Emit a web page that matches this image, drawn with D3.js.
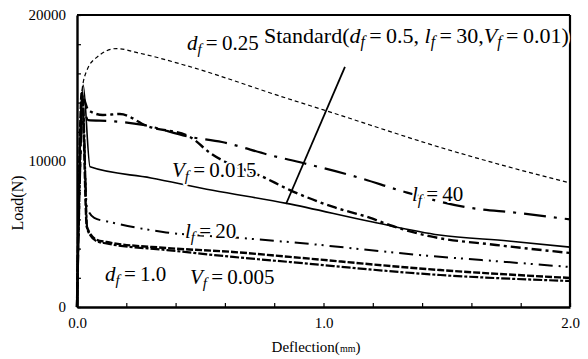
<!DOCTYPE html>
<html>
<head>
<meta charset="utf-8">
<script src="https://cdn.jsdelivr.net/npm/d3@7"></script>
<style>
  body { margin: 0; background: #fff; }
  svg { font-family: 'Liberation Serif', 'DejaVu Serif', serif; }
</style>
</head>
<body>
<script>
// load-deflection curves, [deflection (mm), load (N)]
const dF025 = [[0, 0], [0.02, 14800], [0.04, 16200], [0.08, 17100], [0.16, 17700], [0.25, 17400], [0.45, 16500], [0.85, 14300], [1.0, 13500], [1.5, 10800], [1.75, 9600], [2.0, 8500]]
const standard = [[0, 0], [0.025, 15200], [0.053, 9600], [0.3, 8840], [0.55, 8000], [0.85, 7100], [1.2, 5820], [1.47, 4930], [1.75, 4520], [2.0, 4100]]
const vF015 = [[0, 0], [0.025, 14300], [0.045, 13500], [0.105, 13150], [0.174, 13220], [0.284, 12400], [0.458, 11650], [0.54, 10550], [0.763, 8840], [0.864, 8010], [1.04, 6850], [1.19, 6100], [1.27, 5600], [1.43, 4850], [1.7, 4250], [2.0, 3700]]
const lF40 = [[0, 0], [0.025, 13500], [0.045, 12800], [0.134, 12740], [0.268, 12470], [0.458, 11650], [0.588, 11300], [0.783, 10400], [0.917, 9860], [1.136, 8900], [1.33, 7880], [1.574, 6850], [1.79, 6440], [2.0, 6000]]
const lF20 = [[0, 0], [0.022, 14000], [0.04, 6850], [0.07, 6100], [0.134, 5820], [0.349, 5140], [0.661, 4730], [0.905, 4380], [1.39, 3560], [1.744, 3080], [2.0, 2740]]
const dF10 = [[0, 0], [0.02, 14800], [0.04, 5480], [0.08, 4600], [0.12, 4450], [0.365, 4040], [0.633, 3770], [0.864, 3430], [1.473, 2530], [2.0, 1990]]
const vF005 = [[0, 0], [0.022, 14500], [0.042, 5300], [0.08, 4500], [0.12, 4350], [0.365, 3900], [0.633, 3430], [0.864, 3080], [1.473, 2190], [2.0, 1780]]
const pointer = [[1.087, 16440], [0.848, 7055]]

const xTicks = [0, 1, 2]
const yTicks = [0, 10000, 20000]

const seriesStyle = [
  { data: dF025, dash: '4,3', width: 1.2 },
  { data: standard, dash: null, width: 1.6 },
  { data: vF015, dash: '10,4,3,4', width: 2.4 },
  { data: lF40, dash: '22,8,3,8', width: 2.2 },
  { data: lF20, dash: '14,6,2,5,2,6', width: 2 },
  { data: dF10, dash: '7,2', width: 2.4 },
  { data: vF005, dash: '9,2,3,2', width: 2.2 }
]

// label text and where it sits (data units, left baseline)
const labels = [
  { text: 'd_f=0.25', x: 0.446, y: 17600 },
  { text: 'Standard(d_f=0.5, l_f=30,V_f=0.01)', x: 1.995, y: 18080, anchor: 'end', size: 22 },
  { text: 'V_f=0.015', x: 0.385, y: 8900 },
  { text: 'l_f=40', x: 1.359, y: 7260 },
  { text: 'l_f=20', x: 0.438, y: 4730 },
  { text: 'd_f=1.0', x: 0.114, y: 1780 },
  { text: 'V_f=0.005', x: 0.458, y: 1575 }
]

const width = 588
const height = 359
const plot = { left: 77, right: 570, top: 15, bottom: 307 }
const labelSize = 21

const x = d3.scaleLinear().domain([0, 2]).range([plot.left, plot.right])
const y = d3.scaleLinear().domain([0, 20000]).range([plot.bottom, plot.top])

const svg = d3.select('body').append('svg')
  .attr('width', width)
  .attr('height', height)

svg.append('rect').attr('width', width).attr('height', height).attr('fill', '#fff')

const line = d3.line()
  .x((d) => x(d[0]))
  .y((d) => y(d[1]))
  .curve(d3.curveMonotoneX)

seriesStyle.forEach((s) => {
  svg.append('path')
    .datum(s.data)
    .attr('fill', 'none')
    .attr('stroke', '#000')
    .attr('stroke-width', s.width)
    .attr('stroke-dasharray', s.dash)
    .attr('d', line)
})

svg.append('path')
  .datum(pointer)
  .attr('fill', 'none')
  .attr('stroke', '#000')
  .attr('stroke-width', 1.8)
  .attr('d', d3.line().x((d) => x(d[0])).y((d) => y(d[1])))

// axes, ticks point inward
const xMinor = d3.range(0, 2.01, 0.2)
const yMinor = d3.range(0, 20001, 2000)

const xAxis = svg.append('g')
  .attr('transform', `translate(0,${plot.bottom})`)
  .call(d3.axisBottom(x)
    .tickValues(xMinor)
    .tickSize(-4)
    .tickSizeOuter(0)
    .tickPadding(10)
    .tickFormat((d) => xTicks.some((t) => Math.abs(t - d) < 1e-6) ? d3.format('.1f')(d) : ''))

const yAxis = svg.append('g')
  .attr('transform', `translate(${plot.left},0)`)
  .call(d3.axisLeft(y)
    .tickValues(yMinor)
    .tickSize(-4)
    .tickSizeOuter(0)
    .tickPadding(11)
    .tickFormat((d) => yTicks.includes(d) ? d : ''))

;[xAxis, yAxis].forEach((g) => {
  g.attr('font-family', "'Liberation Serif', serif").attr('font-size', 15)
  g.select('.domain').attr('stroke-width', 2.4)
  g.selectAll('.tick line').attr('stroke-width', 1.2)
  g.selectAll('text').attr('fill', '#000')
})

svg.append('line')
  .attr('x1', plot.left).attr('x2', plot.right)
  .attr('y1', plot.top).attr('y2', plot.top)
  .attr('stroke', '#000').attr('stroke-width', 2.2)

svg.append('line')
  .attr('x1', plot.right).attr('x2', plot.right)
  .attr('y1', plot.top).attr('y2', plot.bottom)
  .attr('stroke', '#000').attr('stroke-width', 2.2)

// rich labels: letter_f -> italic letter with italic subscript f
function richText (sel, str, size) {
  const re = /([dlV])_f/g
  let last = 0
  let shifted = false
  let m
  const add = (t) => {
    const ts = sel.append('tspan').text(t)
    if (shifted) { ts.attr('dy', -4); shifted = false }
    return ts
  }
  while ((m = re.exec(str))) {
    if (m.index > last) add(str.slice(last, m.index))
    add(m[1]).style('font-style', 'italic')
    sel.append('tspan').text('f')
      .style('font-style', 'italic')
      .attr('font-size', size * 0.72)
      .attr('dy', 4)
    shifted = true
    last = re.lastIndex
  }
  if (last < str.length) add(str.slice(last))
}

labels.forEach((l) => {
  const size = l.size || labelSize
  const t = svg.append('text')
    .attr('x', x(l.x))
    .attr('y', y(l.y))
    .attr('font-size', size)
    .attr('text-anchor', l.anchor || 'start')
    .attr('stroke', '#fff')
    .attr('stroke-width', 4)
    .attr('paint-order', 'stroke')
    .attr('stroke-linejoin', 'round')
  richText(t, l.text.replace(/=/g, '\u2009=\u2009'), size)
})

const xTitle = svg.append('text')
  .attr('x', 316)
  .attr('y', 352)
  .attr('text-anchor', 'middle')
  .attr('font-size', 15)
xTitle.append('tspan').text('Deflection(')
xTitle.append('tspan').attr('font-size', 10).text('mm')
xTitle.append('tspan').text(')')

svg.append('text')
  .attr('transform', 'translate(23,203) rotate(-90)')
  .attr('text-anchor', 'middle')
  .attr('font-size', 16)
  .text('Load(N)')
</script>
</body>
</html>
